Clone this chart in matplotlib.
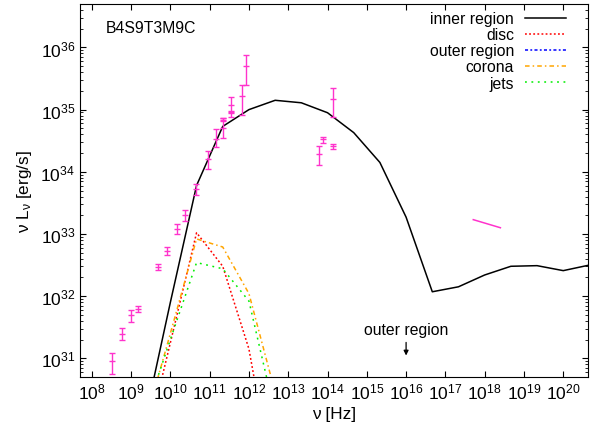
import numpy as np
import matplotlib
matplotlib.use("Agg")
import matplotlib.pyplot as plt

plt.rcParams['font.family'] = ['Liberation Sans', 'DejaVu Sans']
plt.rcParams['mathtext.fontset'] = 'custom'
plt.rcParams['mathtext.rm'] = 'Liberation Sans'
plt.rcParams['mathtext.it'] = 'Liberation Sans'
plt.rcParams['mathtext.default'] = 'regular'

# model curves (log10 nu, log10 nuLnu)
model_lognu = [9.333, 10.0, 10.667, 11.333, 12.0, 12.667, 13.333, 14.0, 14.667,
               15.333, 16.0, 16.667, 17.333, 18.0, 18.667, 19.333, 20.0, 20.667]
inner_logL = [29.96, 31.9, 33.78, 34.73, 35.0, 35.15, 35.11, 34.95, 34.63,
              34.15, 33.27, 32.07, 32.15, 32.34, 32.48, 32.49, 32.41, 32.5]

comp_lognu = [9.333, 10.0, 10.667, 11.333, 12.0, 12.667]
disc_logL = [29.5, 31.25, 33.02, 32.48, 31.15, 28.8]
corona_logL = [29.9, 31.4, 32.92, 32.79, 32.04, 30.45]
jets_logL = [30.05, 31.3, 32.54, 32.44, 31.92, 30.1]
outer_lognu = []   # outer region lies below the plotted range
outer_logL = []

# observed points
obs_lognu = [8.51, 8.77, 8.99, 9.17, 9.69, 9.91, 10.17, 10.36, 10.64, 10.97, 11.16,
             11.35, 11.35, 11.54, 11.54, 11.82, 11.92, 13.79, 13.89, 14.13, 14.15]
obs_logL = [30.95, 31.39, 31.69, 31.80, 32.47, 32.72, 33.08, 33.31, 33.73, 34.21, 34.53,
            34.84, 34.70, 35.07, 34.96, 35.22, 35.70, 34.29, 34.52, 35.17, 34.41]
obs_hi = [31.09, 31.48, 31.77, 31.84, 32.51, 32.79, 33.16, 33.39, 33.81, 34.34, 34.69,
          34.87, 34.86, 35.20, 34.98, 35.40, 35.88, 34.41, 34.56, 35.35, 34.45]
obs_lo = [30.75, 31.29, 31.59, 31.75, 32.42, 32.66, 33.00, 33.21, 33.63, 34.05, 34.40,
          34.81, 34.55, 34.88, 34.94, 34.92, 35.40, 34.11, 34.47, 34.88, 34.37]

xray_lognu = [17.71, 18.40]
xray_logL = [33.23, 33.10]

pink = '#ff33cc'
fs = 11.3

fig = plt.figure(figsize=(5.92, 4.31), dpi=100)
ax = fig.add_axes([80/592, 53/431, 508/592, 373/431])

p = lambda a: 10**np.array(a, dtype=float)

ax.plot(p(model_lognu), p(inner_logL), color='k', lw=1.1, label='inner region')
ax.plot(p(comp_lognu), p(disc_logL), color='#ff0000', lw=1.1, ls=(0, (1.2, 1.5)), label='disc')
ax.plot(p(outer_lognu), p(outer_logL), color='#0000ff', lw=1.1, ls=(0, (2, 1.5, 1.2, 1.5)), label='outer region')
ax.plot(p(comp_lognu), p(corona_logL), color='#ffa500', lw=1.1, ls=(0, (3, 2, 1, 2)), label='corona')
ax.plot(p(comp_lognu), p(jets_logL), color='#00ee00', lw=1.1, ls=(0, (1.2, 3)), label='jets')

L = p(obs_logL)
yerr = [L - p(obs_lo), p(obs_hi) - L]
ax.errorbar(p(obs_lognu), L, yerr=yerr, fmt='_', color=pink, ms=5, lw=1,
            capsize=2.5, capthick=1)
ax.plot(p(xray_lognu), p(xray_logL), color=pink, lw=1.1)

ax.text(1e16, 10**31.47, 'outer region', ha='center', va='center', fontsize=fs)
ax.annotate('', xy=(1e16, 1e31), xytext=(1e16, 10**31.30),
            arrowprops=dict(arrowstyle='-|>', color='k', lw=0.9, mutation_scale=7))

ax.text(0.05, 0.936, 'B4S9T3M9C', transform=ax.transAxes, fontsize=fs, va='center')

ax.set_xscale('log')
ax.set_yscale('log')
ax.set_xlim(10**7.7, 10**20.63)
ax.set_ylim(5e30, 5e36)
ax.set_xticks([10.0**k for k in range(8, 21)])
ax.set_xticks([], minor=True)
ax.yaxis.set_minor_formatter(matplotlib.ticker.NullFormatter())
ax.tick_params(which='both', direction='in', top=True, right=True, labelsize=12.5)
ax.tick_params(which='major', length=4.5)
ax.tick_params(which='minor', length=2.5)
ax.set_xlabel('ν [Hz]', fontsize=fs + 1)
ax.set_ylabel('ν L$_{ν}$ [erg/s]', fontsize=fs + 1)
ax.yaxis.set_label_coords(-0.09, 0.5)
ax.xaxis.set_label_coords(0.5, -0.078)

ax.legend(loc='upper right', markerfirst=False, frameon=False, fontsize=fs,
          handlelength=2.6, handletextpad=0.7, labelspacing=0.07,
          borderaxespad=0.2, bbox_to_anchor=(0.975, 1.006))

fig.savefig('out.png', dpi=100)
